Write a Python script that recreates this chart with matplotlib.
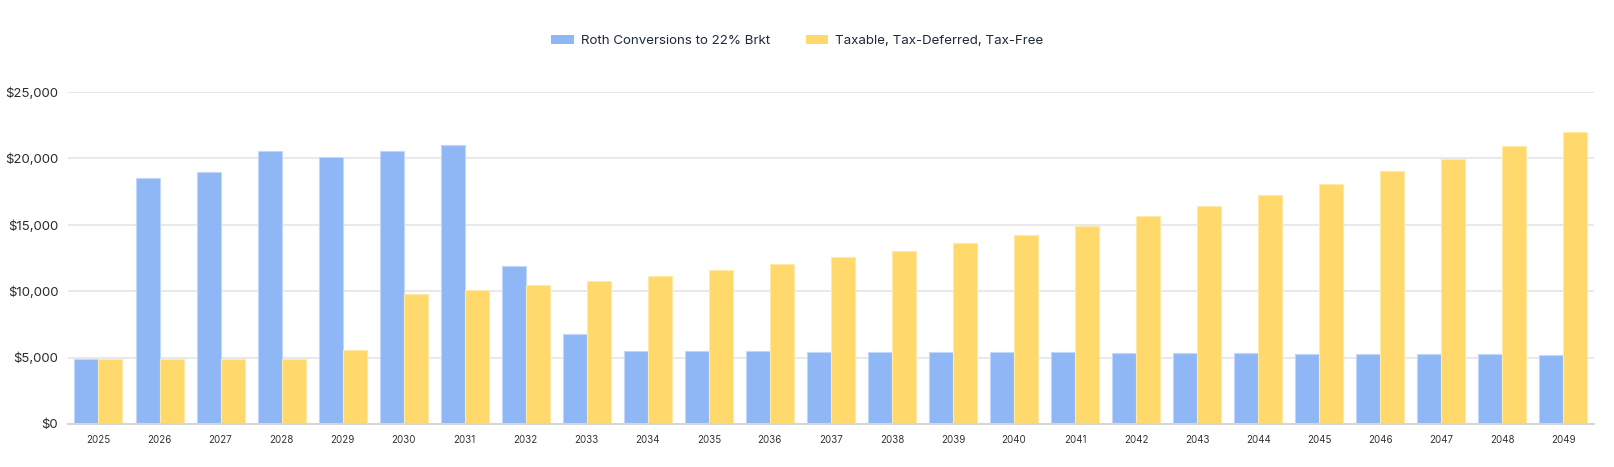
import matplotlib
matplotlib.use("Agg")

import matplotlib.pyplot as plt
from matplotlib.patches import Patch
from matplotlib.ticker import FuncFormatter

# -----------------------------
# Data
# -----------------------------
years = [str(y) for y in range(2025, 2050)]

roth_conversions = [
    4890, 18560, 19010, 20540, 20140, 20590, 21010,
    11860, 6770, 5490, 5490, 5470, 5440, 5420, 5420, 5390,
    5390, 5370, 5340, 5320, 5290, 5290, 5270, 5240, 5220,
]

taxable_deferred_free = [
    4890, 4890, 4890, 4860, 5590, 9800, 10100,
    10430, 10780, 11130, 11580, 12040, 12540, 13060, 13640, 14240,
    14940, 15650, 16420, 17250, 18080, 19030, 19960, 20940, 21990,
]

series_labels = ["Roth Conversions to 22% Brkt", "Taxable, Tax-Deferred, Tax-Free"]
y_ticks = [0, 5000, 10000, 15000, 20000, 25000]

# -----------------------------
# Styling
# -----------------------------
plt.rcParams["font.family"] = ["Inter", "DejaVu Sans"]

blue = "#8fb7f6"
yellow = "#ffd96b"
blue_edge = "#c2d8fb"
yellow_edge = "#ffeaa8"

fig = plt.figure(figsize=(16.14, 4.67), dpi=100)
ax = fig.add_axes([0.0421, 0.0921, 0.9455, 0.7109])

x = list(range(len(years)))
w = 0.393

ax.bar([i - w / 2 for i in x], roth_conversions, width=w, color=blue,
       edgecolor=blue_edge, linewidth=0.8, zorder=3)
ax.bar([i + w / 2 for i in x], taxable_deferred_free, width=w, color=yellow,
       edgecolor=yellow_edge, linewidth=0.8, zorder=3)

ax.set_xlim(-0.5, len(years) - 0.5)
ax.set_ylim(0, 25000)
ax.set_yticks(y_ticks)
ax.yaxis.set_major_formatter(FuncFormatter(lambda v, p: f"${v:,.0f}"))
ax.set_xticks(x)
ax.set_xticklabels(years)

ax.tick_params(axis="y", length=0, pad=7, labelsize=9.5, labelcolor="#2b2b2b")
ax.tick_params(axis="x", length=0, pad=8, labelsize=7, labelcolor="#333333")

ax.grid(axis="y", color="#e5e5e5", linewidth=1.2, zorder=0)
ax.set_axisbelow(True)
for side in ["top", "right", "left"]:
    ax.spines[side].set_visible(False)
ax.spines["bottom"].set_color("#d6d6d6")
ax.spines["bottom"].set_linewidth(1.5)
ax.spines["bottom"].set_zorder(4)

# -----------------------------
# Legend
# -----------------------------
handles = [Patch(facecolor=blue, edgecolor="none"),
           Patch(facecolor=yellow, edgecolor="none")]
fig.legend(handles, series_labels, loc="center", bbox_to_anchor=(0.494, 0.912),
           ncol=2, frameon=False, fontsize=9.6, labelcolor="#1e293b",
           handlelength=1.7, handleheight=0.7, handletextpad=0.5,
           columnspacing=2.7)

fig.savefig("out.png", dpi=100)
plt.close(fig)
